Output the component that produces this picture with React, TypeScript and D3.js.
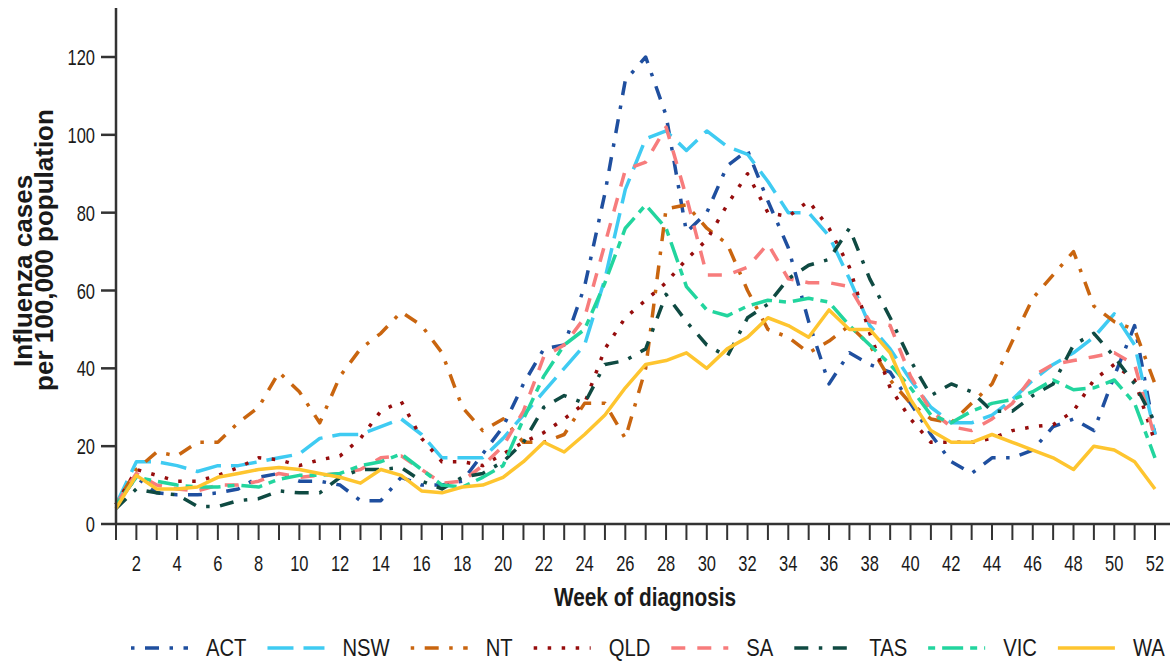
import React, { useMemo } from "react";
import * as d3 from "d3";

// Week of diagnosis (x categories)
const weeks = [
  1, 2, 3, 4, 5, 6, 7, 8, 9, 10, 11, 12, 13, 14, 15, 16, 17, 18, 19, 20, 21, 22, 23, 24, 25, 26,
  27, 28, 29, 30, 31, 32, 33, 34, 35, 36, 37, 38, 39, 40, 41, 42, 43, 44, 45, 46, 47, 48, 49, 50, 51, 52,
];
const xTickLabels = [2, 4, 6, 8, 10, 12, 14, 16, 18, 20, 22, 24, 26, 28, 30, 32, 34, 36, 38, 40, 42, 44, 46, 48, 50, 52];
const yTickValues = [0, 20, 40, 60, 80, 100, 120];

// Influenza notification rates per 100,000 population, by jurisdiction
const act = [5, 12, 8, 7.5, 7.5, 8, 9, 12, 13, 11, 11, 10, 6, 6, 12, 10, 10, 11, 18, 25, 36, 45, 46, 61, 85, 114, 120, 105, 75, 80, 92, 96, 83, 71, 52, 36, 44, 41, 39, 31, 23, 16, 13, 17, 17, 19, 25, 27, 24, 38, 51, 23];
const nsw = [5, 16, 16, 15, 13.5, 15, 15, 16, 17, 18, 22, 23, 23, 25, 27, 23, 17, 17, 17, 22, 28, 34, 40, 46, 63, 86, 99, 101, 96, 101, 97, 95, 88, 80, 80, 74, 63, 51, 45, 37, 30, 26, 26, 28, 32, 37, 41, 44, 48, 54, 46, 23];
const nt = [5, 14, 18.5, 17.5, 21, 21, 26, 30, 39, 34, 26, 38, 45, 49, 54.5, 51, 44, 30, 24, 27, 21, 21, 23, 31, 31, 22, 40, 81, 82, 76, 72, 60, 50, 48, 44, 47, 51, 46, 37, 31, 27, 26, 31, 36, 47, 58, 64, 70, 56, 52, 50, 36];
const qld = [5, 14, 12.5, 11, 11, 12.5, 14.5, 17, 16.5, 15, 16.5, 17.5, 22, 29, 31.5, 22, 16, 16, 15, 18, 21, 23.5, 27, 31, 45, 53, 57.5, 62, 68, 73, 82, 90, 80, 79, 83, 76, 66, 49, 35, 27, 21, 21, 21, 22, 24, 25, 25.5, 29, 37, 41, 37, 21];
const sa = [5, 13, 10, 9, 8.5, 10, 10, 11, 13, 12, 12.5, 13, 14, 17, 17.5, 14, 10.5, 11, 15, 20, 29, 43, 46, 53, 72, 91, 93, 102, 84, 64, 64, 66, 72, 63, 62, 62, 61, 52, 51, 38, 29, 25, 24, 27, 31, 38, 41, 42, 43, 44, 41, 22];
const tas = [4, 9, 8, 7.5, 4.5, 4.5, 6, 6.5, 8.5, 8, 8, 12, 14, 14, 14.5, 11, 9, 12, 13, 16, 21, 30, 33, 31, 41, 42, 45, 59, 52, 46, 43, 53, 56.5, 63, 66.5, 68, 76, 63, 53, 42, 33, 36, 34, 29, 29, 33, 36, 46, 49, 43, 36, 26];
const vic = [5, 12, 11, 10, 9.5, 9.5, 10, 9.5, 11.5, 12.5, 12.5, 13, 15, 16, 18, 14, 10, 9.5, 12, 15, 27, 38, 46, 50, 62, 76, 82, 76, 61, 55, 53.5, 56, 57.5, 57, 58, 57, 51, 46, 41, 35, 28, 26, 29, 31, 32, 34, 37, 34.5, 35, 37, 31, 17];
const wa = [4, 12.5, 9, 9, 9.5, 12, 13, 14, 14.5, 14, 13, 12, 10.5, 14, 12.5, 8.5, 8, 9.5, 10, 12, 16, 21, 18.5, 23, 28, 35, 41, 42, 44, 40, 45, 48, 53, 51, 48, 55, 50, 50, 44, 32, 24, 21, 21, 23, 21, 19, 17, 14, 20, 19, 16, 9];

const stateNames = ["ACT", "NSW", "NT", "QLD", "SA", "TAS", "VIC", "WA"];
const stateValues = [act, nsw, nt, qld, sa, tas, vic, wa];

// Line appearance per jurisdiction
const lineColors: Record<string, string> = {
  ACT: "#1f4f9f",
  NSW: "#3fcbf2",
  NT: "#c9650f",
  QLD: "#960d0d",
  SA: "#f77c7c",
  TAS: "#0f4a42",
  VIC: "#22d59e",
  WA: "#fec52f",
};
const lineDashes: Record<string, string> = {
  ACT: "3.5 10.5 14 10.5",
  NSW: "26 10",
  NT: "3.5 10.5 14 10.5",
  QLD: "3.5 10.5",
  SA: "14 12",
  TAS: "14 10.5 3.5 10.5",
  VIC: "7 7 21 7",
  WA: "none",
};

const W = 1170;
const H = 662;
const FONT = "'Liberation Sans', Arial, Helvetica, sans-serif";
const AXIS = "#333333";
const INK = "#1a1a1a";
const LW = 3.5;

const x = d3.scaleLinear().domain([1, 52]).range([116, 1155]);
const y = d3.scaleLinear().domain([0, 120]).range([524, 57]);

function measure(text: string, size: number, weight = "normal") {
  const c = document.createElement("canvas").getContext("2d");
  if (!c) return text.length * size * 0.55;
  c.font = `${weight} ${size}px 'Liberation Sans', Arial, sans-serif`;
  return c.measureText(text).width;
}

function SText(props: {
  x: number;
  y: number;
  sx: number;
  size: number;
  anchor?: string;
  weight?: string;
  children: React.ReactNode;
}) {
  const { x: tx, y: ty, sx, size, anchor = "start", weight = "normal", children } = props;
  return (
    <text
      transform={`translate(${tx},${ty}) scale(${sx},1)`}
      textAnchor={anchor}
      fontSize={size}
      fontWeight={weight}
      fontFamily={FONT}
      fill={INK}
    >
      {children}
    </text>
  );
}

export default function App() {
  const series = stateNames.map((name, i) => ({ name, values: stateValues[i] }));

  const lineGen = d3
    .line<number>()
    .x((_, i) => x(weeks[i]))
    .y((d) => y(d));

  const legendSize = 23;
  const legendScale = 0.88;
  const legendItems = useMemo(() => {
    let cx = 131;
    return stateNames.map((name) => {
      const item = { name, lineX: cx, textX: cx + 75 };
      const w = measure(name, legendSize) * legendScale;
      cx = cx + 75 + w + 21;
      return item;
    });
  }, []);

  const x0 = y(0);

  return (
    <svg
      width={W}
      height={H}
      viewBox={`0 0 ${W} ${H}`}
      style={{ position: "absolute", left: 0, top: 0, background: "#ffffff" }}
    >
      <rect x={0} y={0} width={W} height={H} fill="#ffffff" />

      {/* data lines */}
      <g fill="none" strokeLinejoin="round" strokeLinecap="butt">
        {series.map((s) => (
          <path
            key={s.name}
            d={lineGen(s.values) || ""}
            stroke={lineColors[s.name]}
            strokeWidth={LW}
            strokeDasharray={lineDashes[s.name]}
          />
        ))}
      </g>

      {/* y axis */}
      <g>
        <line x1={x(1)} x2={x(1)} y1={8} y2={x0} stroke={AXIS} strokeWidth={2.5} />
        {yTickValues.map((v) => (
          <g key={v}>
            <line x1={101} x2={x(1)} y1={y(v)} y2={y(v)} stroke={AXIS} strokeWidth={2.5} />
            <SText x={95} y={y(v) + 8} sx={0.75} size={22} anchor="end">
              {v}
            </SText>
          </g>
        ))}
      </g>

      {/* x axis */}
      <g>
        <line x1={x(1)} x2={W} y1={x0} y2={x0} stroke={AXIS} strokeWidth={2.5} />
        {weeks.map((w) => (
          <line key={w} x1={x(w)} x2={x(w)} y1={x0} y2={x0 + 16} stroke={AXIS} strokeWidth={2} />
        ))}
        {xTickLabels.map((w) => (
          <SText key={w} x={x(w)} y={571} sx={0.75} size={22} anchor="middle">
            {w}
          </SText>
        ))}
      </g>

      {/* axis titles */}
      <SText x={645} y={606} sx={0.8} size={26} anchor="middle" weight="bold">
        Week of diagnosis
      </SText>
      <text
        transform="translate(32,271) rotate(-90)"
        textAnchor="middle"
        fontSize={26}
        fontWeight="bold"
        fontFamily={FONT}
        fill={INK}
      >
        Influenza cases
      </text>
      <text
        transform="translate(53,250) rotate(-90)"
        textAnchor="middle"
        fontSize={26}
        fontWeight="bold"
        fontFamily={FONT}
        fill={INK}
      >
        per 100,000 population
      </text>

      {/* legend */}
      <g>
        {legendItems.map((it) => (
          <g key={it.name}>
            <line
              x1={it.lineX}
              x2={it.lineX + 57}
              y1={648}
              y2={648}
              stroke={lineColors[it.name]}
              strokeWidth={LW}
              strokeDasharray={lineDashes[it.name]}
            />
            <SText x={it.textX} y={656} sx={legendScale} size={legendSize}>
              {it.name}
            </SText>
          </g>
        ))}
      </g>
    </svg>
  );
}
